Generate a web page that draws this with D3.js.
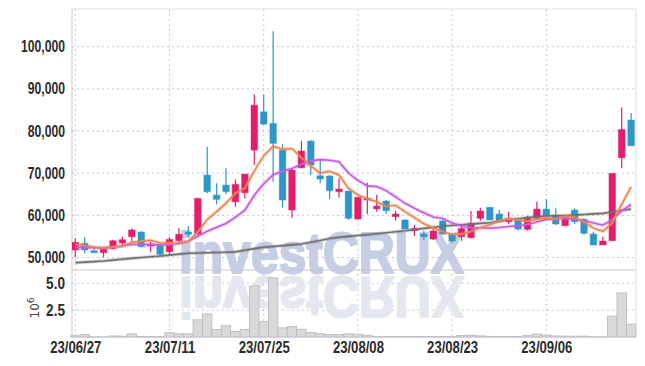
<!DOCTYPE html>
<html>
<head>
<meta charset="utf-8">
<script src="https://cdn.jsdelivr.net/npm/d3@7"></script>
<style>
  body { margin: 0; background: #fff; }
  svg { display: block; }
  .tick text { font-family: "Liberation Sans", Arial, sans-serif; font-weight: bold; fill: #2b2b2b; }
</style>
</head>
<body>
<div id="wrapper"></div>
<script>
const dates = ["23/06/27","23/06/28","23/06/29","23/06/30","23/07/03","23/07/04","23/07/05","23/07/06","23/07/07","23/07/10",
  "23/07/11","23/07/12","23/07/13","23/07/14","23/07/17","23/07/18","23/07/19","23/07/20","23/07/21","23/07/24",
  "23/07/25","23/07/26","23/07/27","23/07/28","23/07/31","23/08/01","23/08/02","23/08/03","23/08/04","23/08/07",
  "23/08/08","23/08/09","23/08/10","23/08/11","23/08/14","23/08/16","23/08/17","23/08/18","23/08/21","23/08/22",
  "23/08/23","23/08/24","23/08/25","23/08/28","23/08/29","23/08/30","23/08/31","23/09/01","23/09/04","23/09/05",
  "23/09/06","23/09/07","23/09/08","23/09/11","23/09/12","23/09/13","23/09/14","23/09/15","23/09/18","23/09/19"];

const open = [51780,53370,51610,51140,52090,53440,54930,56040,52730,52800,
  51370,53980,56040,55570,69550,64810,67180,63220,65360,75480,
  84560,81800,75480,61260,71280,77610,69390,69320,65600,65760,
  59120,63630,61540,63390,59670,58890,56350,55570,54380,58650,
  55570,54930,54690,59290,61900,60310,58480,58890,56680,59290,
  61490,60070,57540,61260,59050,55570,52960,53980,73650,82600];
const high = [54550,54790,52560,52560,54220,54930,56920,56200,53670,53200,
  54790,56990,57470,64030,76260,67590,71140,68530,69790,88680,
  88680,103680,76830,71140,77610,77850,73340,69550,68770,65760,
  64270,67730,64810,63630,61090,59120,57700,56350,57160,58890,
  55740,57300,61020,61800,61900,61260,60850,59000,59910,63230,
  63790,61660,60000,61660,59290,56120,54930,69960,85600,84300];
const low = [50050,51000,51140,50050,51880,52560,53740,52400,51300,50050,
  50360,53510,54790,55100,65220,62610,64980,62040,64030,71920,
  81400,67960,61800,59430,71140,69550,67590,63870,64170,58890,
  59120,60310,60850,60310,58720,56750,55100,54150,54150,55330,
  53510,53980,54550,58720,58890,58250,57940,56350,56350,58890,
  59670,57700,57540,57940,55330,52960,52960,53980,71140,76500];
const close = [53600,51780,51140,52090,53980,54220,56520,52560,53200,50760,
  54310,55500,55500,64030,65600,63790,65600,67350,69790,86140,
  81640,77070,63630,70740,75240,71920,68600,65830,66230,59290,
  64270,64030,62180,61090,60310,56750,56920,54930,56280,55570,
  53910,56920,58110,61020,58890,58480,59290,56750,59530,61490,
  59910,57940,59840,58480,55740,52960,53910,69960,80380,76500];
// volume, millions of shares
const volume = [0.12,0.25,0.03,0.02,0.10,0.08,0.30,0.06,0.06,0.05,
  0.40,0.30,0.30,1.60,2.15,0.70,1.05,0.52,0.70,4.75,
  1.45,5.50,0.85,0.98,0.72,0.42,0.33,0.24,0.24,0.30,
  0.26,0.16,0.06,0.05,0.04,0.04,0.05,0.04,0.05,0.06,
  0.05,0.15,0.18,0.10,0.06,0.05,0.04,0.04,0.15,0.28,
  0.18,0.10,0.08,0.08,0.08,0.02,0.02,1.95,4.10,1.20];

// moving averages
const ma5 = [53100,52900,52450,52300,52518,52642,53590,53874,54096,53452,
  53470,53266,53854,56020,58988,60884,62904,65274,66426,70534,
  74104,76398,75654,75844,73664,71720,70026,70466,69564,66374,
  64844,63930,63200,62172,62376,60872,59450,58000,57038,56090,
  55522,55522,56158,57106,57770,58684,59158,58886,58588,59108,
  59394,59124,59742,59532,58382,56992,56186,58210,62590,66742];
const ma10 = [52300,52400,52300,52250,52450,52800,53100,53100,53100,52985,
  53056,53428,53864,55058,56220,57177,58085,59564,61223,64761,
  67494,69651,70464,71135,72099,72912,73212,73060,72704,70019,
  68282,66978,66833,65868,64375,62858,61690,60600,59605,59233,
  58197,57486,57079,57072,56930,57103,57340,57522,57847,58439,
  59039,59141,59314,59060,58745,58193,57655,58976,61061,62562];
const ma60 = [48770,48900,49030,49170,49380,49590,49800,50000,50180,50360,
  50570,50790,51000,51070,51140,51200,51260,51330,51700,52100,
  52420,52620,52820,53000,53200,53600,54050,54500,54790,55000,
  55200,55400,55640,55880,56120,56350,56620,56900,57150,57400,
  57600,57760,57920,58100,58250,58600,58950,59200,59450,59650,
  59830,59900,59970,60050,60200,60350,60470,60800,61150,61490];

const priceTicks = [50000, 60000, 70000, 80000, 90000, 100000];
const volTicks = [2.5, 5.0];
const dateTicks = ["23/06/27","23/07/11","23/07/25","23/08/08","23/08/23","23/09/06"];

const width = 645, height = 366;
const plot = { left: 72, right: 636, top: 9, split: 270, bottom: 337 };

const svg = d3.select("#wrapper").append("svg")
  .attr("width", width).attr("height", height);

const x = d3.scalePoint().domain(dates).range([75.3, 631.1]);
const step = x.step();
const y = d3.scaleLinear().domain([50000, 100000]).range([257.5, 46.7]);
const yv = d3.scaleLinear().domain([0, 5]).range([plot.bottom, 283.3]);

// squeeze text horizontally, the reference uses a condensed face
function condense(sel, k) {
  sel.each(function () {
    const w = this.getComputedTextLength();
    d3.select(this).attr("textLength", w * k).attr("lengthAdjust", "spacingAndGlyphs");
  });
}

const defs = svg.append("defs");
defs.append("clipPath").attr("id", "clipPrice")
  .append("rect").attr("x", plot.left).attr("y", plot.top)
  .attr("width", plot.right - plot.left).attr("height", plot.split - plot.top);
defs.append("clipPath").attr("id", "clipVol")
  .append("rect").attr("x", plot.left).attr("y", plot.split + 4)
  .attr("width", plot.right - plot.left).attr("height", plot.bottom - plot.split - 4);

// grid
const grid = svg.append("g");
grid.selectAll(".hp").data(priceTicks).join("line")
  .attr("x1", plot.left).attr("x2", plot.right).attr("y1", d => y(d)).attr("y2", d => y(d))
  .attr("stroke", "#c6c6da").attr("stroke-dasharray", "2,3");
grid.selectAll(".hv").data(volTicks).join("line")
  .attr("x1", plot.left).attr("x2", plot.right).attr("y1", d => yv(d)).attr("y2", d => yv(d))
  .attr("stroke", "#c6c6da").attr("stroke-dasharray", "2,3");
grid.selectAll(".vx").data(dateTicks).join("line")
  .attr("x1", d => x(d)).attr("x2", d => x(d)).attr("y1", plot.top).attr("y2", plot.bottom)
  .attr("stroke", "#c6c6da").attr("stroke-dasharray", "2,3");

// watermark + reflection
const wm = svg.append("g").style("font-family", "'Liberation Sans', sans-serif")
  .style("font-weight", "bold").style("font-size", "58px");
wm.append("text").attr("x", 179).attr("y", 273)
  .attr("textLength", 285).attr("lengthAdjust", "spacingAndGlyphs")
  .attr("fill", "#c6cee5").attr("stroke", "#c6cee5").attr("stroke-width", 2.2)
  .attr("stroke-linejoin", "round").text("investCRUX");
wm.append("g").attr("clip-path", "url(#clipVol)")
  .append("text").attr("x", 179).attr("y", 273)
  .attr("textLength", 285).attr("lengthAdjust", "spacingAndGlyphs")
  .attr("transform", "translate(0,550) scale(1,-1)")
  .attr("fill", "#e5e7f0").attr("stroke", "#e5e7f0").attr("stroke-width", 2.2)
  .attr("stroke-linejoin", "round").text("investCRUX");

// frame
svg.append("line").attr("x1", plot.left).attr("x2", plot.right).attr("y1", plot.top).attr("y2", plot.top).attr("stroke", "#dcdce6");
svg.append("line").attr("x1", plot.left).attr("x2", plot.left).attr("y1", plot.top).attr("y2", plot.bottom).attr("stroke", "#c8c8d4");
svg.append("line").attr("x1", plot.right).attr("x2", plot.right).attr("y1", plot.top).attr("y2", plot.bottom).attr("stroke", "#dcdce6");
svg.append("line").attr("x1", plot.left).attr("x2", plot.right).attr("y1", plot.split).attr("y2", plot.split).attr("stroke", "#c8c8d4");

// volume bars
svg.append("g")
  .selectAll("rect").data(dates).join("rect")
  .attr("x", d => x(d) - step / 2).attr("width", step)
  .attr("y", (d, i) => yv(volume[i])).attr("height", (d, i) => plot.bottom - yv(volume[i]))
  .attr("fill", "#d9d9db").attr("stroke", "#b9b9bd").attr("stroke-width", 0.8);

svg.append("line").attr("x1", plot.left).attr("x2", plot.right).attr("y1", plot.bottom).attr("y2", plot.bottom).attr("stroke", "#c8c8d4");

// candles
const price = svg.append("g").attr("clip-path", "url(#clipPrice)");
const up = "#e31d6a", down = "#2f96c8";
const colorOf = i => close[i] >= open[i] ? up : down;

const candles = price.append("g").selectAll("g").data(dates).join("g");
candles.append("line")
  .attr("x1", d => x(d)).attr("x2", d => x(d))
  .attr("y1", (d, i) => y(high[i])).attr("y2", (d, i) => y(low[i]))
  .attr("stroke", (d, i) => colorOf(i)).attr("stroke-width", 1.2);
candles.append("rect")
  .attr("x", d => x(d) - 3.3).attr("width", 6.6)
  .attr("y", (d, i) => y(Math.max(open[i], close[i])))
  .attr("height", (d, i) => Math.max(1.5, Math.abs(y(open[i]) - y(close[i]))))
  .attr("fill", (d, i) => colorOf(i))
  .attr("stroke", (d, i) => colorOf(i)).attr("stroke-opacity", 0.35).attr("stroke-width", 1.2);

// moving average lines
const line = d3.line().x((d, i) => x(dates[i])).y(d => y(d));
[[ma60, "#707070"], [ma10, "#c95ae8"], [ma5, "#ee8450"]].forEach(([vals, col]) => {
  price.append("path").datum(vals).attr("d", line)
    .attr("fill", "none").attr("stroke", col).attr("stroke-opacity", 0.3).attr("stroke-width", 3.5);
  price.append("path").datum(vals).attr("d", line)
    .attr("fill", "none").attr("stroke", col).attr("stroke-width", 1.6);
});

// axes
const fmt = d3.format(",");
svg.append("g").attr("transform", `translate(${plot.left - 6},0)`)
  .call(d3.axisLeft(y).tickValues(priceTicks).tickFormat(fmt).tickSize(0).tickPadding(1))
  .call(g => g.select(".domain").remove())
  .call(g => g.selectAll("text").style("font-size", "16px").call(condense, 0.76));

svg.append("g").attr("transform", `translate(${plot.left - 6},0)`)
  .call(d3.axisLeft(yv).tickValues(volTicks).tickFormat(d3.format(".1f")).tickSize(0).tickPadding(1))
  .call(g => g.select(".domain").remove())
  .call(g => g.selectAll("text").style("font-size", "16px").call(condense, 0.85));

svg.append("g").attr("transform", `translate(0,${plot.bottom + 2})`)
  .call(d3.axisBottom(x).tickValues(dateTicks).tickSize(0).tickPadding(3))
  .call(g => g.select(".domain").remove())
  .call(g => g.selectAll("text").style("font-size", "16px").call(condense, 0.82));

const unit = svg.append("text").attr("transform", "translate(39,308) rotate(-90)")
  .attr("text-anchor", "middle").style("font-family", "'DejaVu Sans', sans-serif")
  .style("font-size", "12px").attr("fill", "#444");
unit.append("tspan").text("10");
unit.append("tspan").attr("dy", -5).style("font-size", "9px").text("6");
</script>
</body>
</html>
